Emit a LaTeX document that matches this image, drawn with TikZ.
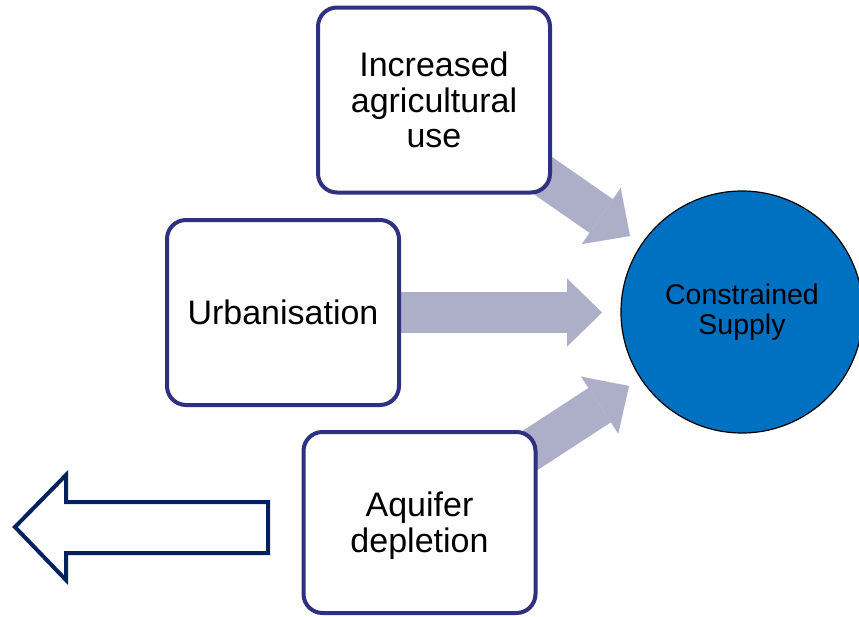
\documentclass[tikz,border=0pt]{standalone}
\usepackage{fontspec}
\setmainfont{Liberation Sans}
\usetikzlibrary{arrows.meta,backgrounds}

\definecolor{boxline}{RGB}{46,48,128}
\definecolor{flowgray}{RGB}{173,174,199}
\definecolor{supplyblue}{RGB}{0,112,192}
\definecolor{navy}{RGB}{0,32,96}

\tikzset{
  factor/.style={draw=boxline, line width=4pt, rounded corners=19pt, fill=white,
    minimum width=232pt, minimum height=185pt, align=center, text width=220pt,
    font=\fontsize{34}{35.5}\selectfont},
  result/.style={circle, draw=black, line width=1.2pt, fill=supplyblue,
    minimum size=242pt, inner sep=0pt, align=center,
    font=\fontsize{28.5}{29.5}\selectfont},
  flow/.style={draw=flowgray, line width=41pt,
    -{Triangle[length=35pt,width=68pt,line width=0.01pt,fill=flowgray]}},
  outarrow/.style={draw=navy, line width=4pt, line join=miter}
}

\begin{document}
\begin{tikzpicture}[x=1pt,y=-1pt]
  \clip (0,0) rectangle (859,616);

  % driver boxes and the central outcome
  \node[factor] (agri)  at (434,100)   {Increased\\agricultural\\use};
  \node[factor] (urban) at (283,312.5) {Urbanisation};
  \node[factor, minimum height=181pt] (aquifer) at (419.5,522.5)
    {\rule{0pt}{31pt}Aquifer\\depletion};
  \node[result] (supply) at (742,312) {Constrained\\Supply};

  % arrow tips pointing at the circle
  \coordinate (tipA) at (630,236);
  \coordinate (tipU) at (602,312.5);
  \coordinate (tipQ) at (629,386);

  % broad gray arrows, tucked behind the boxes
  \begin{pgfonlayer}{background}
    \draw[flow] (agri.center)    -- (tipA);
    \draw[flow] (urban.center)   -- (tipU);
    \draw[flow] (aquifer.center) -- (tipQ);
  \end{pgfonlayer}

  % hollow outlined arrow pointing left
  \draw[outarrow] (15,527) -- (66,475) -- (66,502) -- (268,502)
    -- (268,553) -- (66,553) -- (66,580) -- cycle;
\end{tikzpicture}
\end{document}
